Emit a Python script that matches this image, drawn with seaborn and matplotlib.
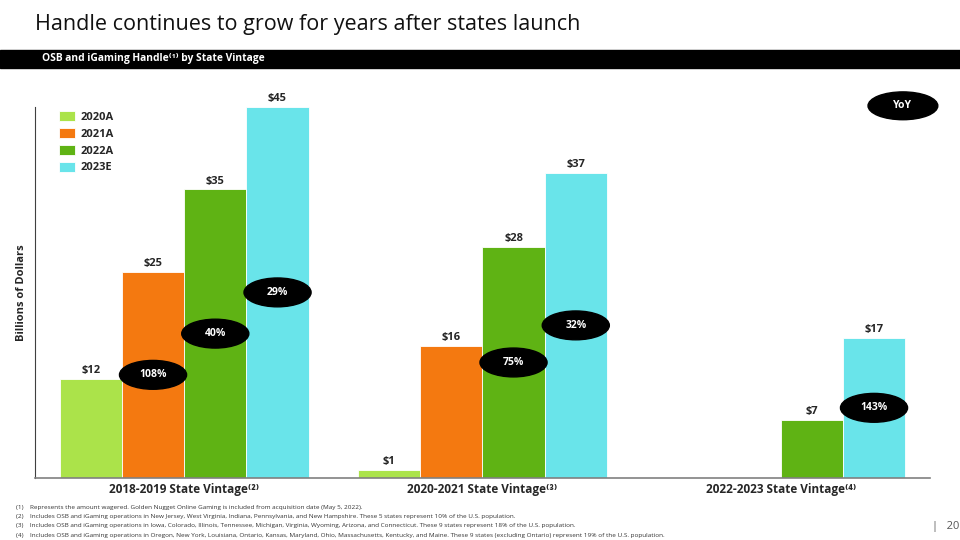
import matplotlib
matplotlib.use("Agg")
import matplotlib.pyplot as plt
from matplotlib.patches import Ellipse
import seaborn as sns
import pandas as pd
import numpy as np

# Data
groups = ["2018-2019 State Vintage⁽²⁾", "2020-2021 State Vintage⁽³⁾", "2022-2023 State Vintage⁽⁴⁾"]
years = ["2020A", "2021A", "2022A", "2023E"]
handle_2020 = [12, 1, np.nan]
handle_2021 = [25, 16, np.nan]
handle_2022 = [35, 28, 7]
handle_2023 = [45, 37, 17]
yoy_2020 = [None, None, None]
yoy_2021 = ["108%", None, None]
yoy_2022 = ["40%", "75%", None]
yoy_2023 = ["29%", "32%", "143%"]
colors = ["#ABE34A", "#F47910", "#5FB314", "#69E4EA"]

footnotes = [
    "(1)    Represents the amount wagered. Golden Nugget Online Gaming is included from acquisition date (May 5, 2022).",
    "(2)    Includes OSB and iGaming operations in New Jersey, West Virginia, Indiana, Pennsylvania, and New Hampshire. These 5 states represent 10% of the U.S. population.",
    "(3)    Includes OSB and iGaming operations in Iowa, Colorado, Illinois, Tennessee, Michigan, Virginia, Wyoming, Arizona, and Connecticut. These 9 states represent 18% of the U.S. population.",
    "(4)    Includes OSB and iGaming operations in Oregon, New York, Louisiana, Ontario, Kansas, Maryland, Ohio, Massachusetts, Kentucky, and Maine. These 9 states (excluding Ontario) represent 19% of the U.S. population.",
]

values = [handle_2020, handle_2021, handle_2022, handle_2023]
yoys = [yoy_2020, yoy_2021, yoy_2022, yoy_2023]
df = pd.DataFrame({
    "Vintage": groups * 4,
    "Year": [y for y in years for _ in groups],
    "Handle": [v for vals in values for v in vals],
})

sns.set_style("white")
plt.rcParams["font.family"] = ["Open Sans", "DejaVu Sans"]

fig = plt.figure(figsize=(9.6, 5.4), dpi=100)
ax = fig.add_axes([0.0365, 0.115, 0.932, 0.687])

sns.barplot(data=df, x="Vintage", y="Handle", hue="Year", hue_order=years,
            order=groups, palette=colors, saturation=1, width=0.835, errorbar=None,
            edgecolor="white", linewidth=0.6, ax=ax)

ax.set_ylim(0, 45)
ax.set_xlim(-0.5, 2.5)
ax.set_ylabel("Billions of Dollars", fontsize=8, fontweight="bold", labelpad=6)
ax.set_xlabel("")
ax.set_yticks([])
ax.tick_params(axis="x", length=0, pad=4)
for lab in ax.get_xticklabels():
    lab.set_fontweight("bold")
    lab.set_fontsize(8.5)
sns.despine(ax=ax, top=True, right=True)
ax.spines["left"].set_color("#404040")
ax.spines["bottom"].set_color("#808080")
ax.spines["bottom"].set_linewidth(1.2)

# value labels and YoY ellipses
for container, yoy in zip(ax.containers, yoys):
    ax.bar_label(container, labels=[f"${v:.0f}" for v in container.datavalues],
                 padding=2, fontsize=8, fontweight="bold", clip_on=False)
    for bar, v in zip(container, container.datavalues):
        if np.isnan(v):
            continue
        cx = bar.get_x() + bar.get_width() / 2
        gi = int(round(cx))
        if yoy[gi] is None:
            continue
        ax.add_patch(Ellipse((cx, v / 2), 0.225, 3.5, color="black", zorder=5))
        ax.text(cx, v / 2, yoy[gi], color="white", ha="center", va="center",
                fontsize=7.5, fontweight="bold", zorder=6)

ax.add_patch(Ellipse((0.97, 1.003), 0.078, 0.075, transform=ax.transAxes,
                     color="black", clip_on=False, zorder=5))
ax.text(0.97, 1.003, "YoY", transform=ax.transAxes, color="white", ha="center",
        va="center", fontsize=7.5, fontweight="bold", zorder=6)

leg = ax.legend(loc="upper left", bbox_to_anchor=(0.022, 1.0), frameon=False,
                fontsize=8, handlelength=1.4, handleheight=1.0, labelspacing=0.45,
                handletextpad=0.5, borderaxespad=0)
for t in leg.get_texts():
    t.set_fontweight("bold")

# slide header
fig.text(0.036, 0.955, "Handle continues to grow for years after states launch",
         fontsize=15.5, va="center", ha="left", color="#111111")
fig.patches.append(plt.Rectangle((0, 0.874), 1, 0.034, transform=fig.transFigure,
                                 color="black", zorder=0))
fig.text(0.044, 0.891, "OSB and iGaming Handle⁽¹⁾ by State Vintage", color="white",
         fontsize=7.4, fontweight="bold", va="center", ha="left")

# footnotes
for i, note in enumerate(footnotes):
    fig.text(0.017, 0.061 - i * 0.0175, note, fontsize=4.6, va="center", ha="left",
             color="#333333")
fig.text(0.971, 0.025, "|   20", fontsize=8, va="center", ha="left", color="#555555")

fig.savefig("out.png", dpi=100)
